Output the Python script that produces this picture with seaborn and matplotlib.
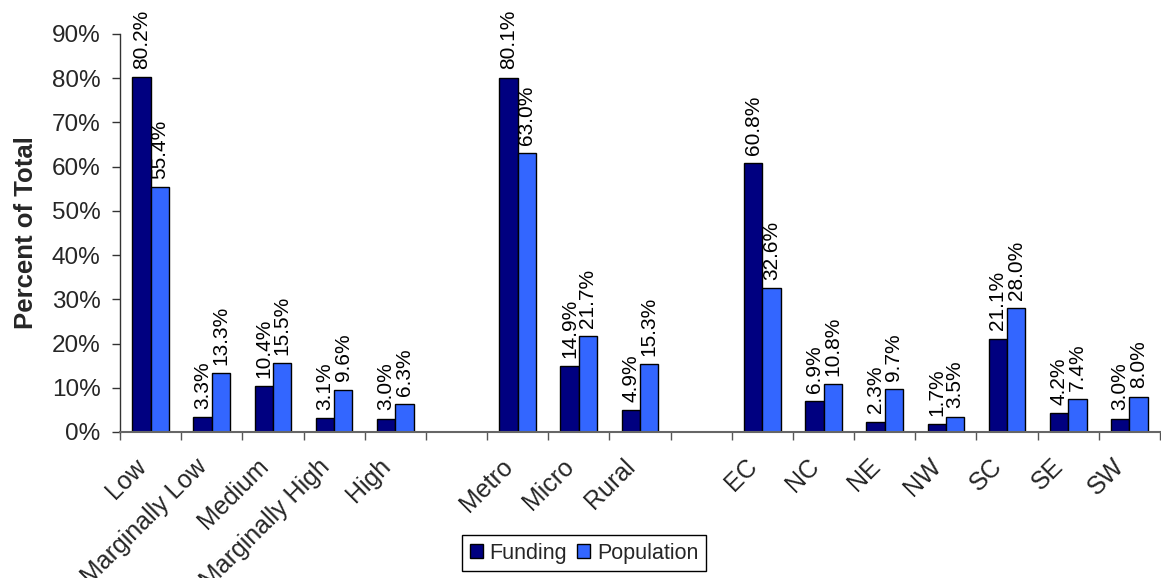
import matplotlib
matplotlib.use("Agg")
import matplotlib.pyplot as plt
import matplotlib.transforms as mtransforms
import seaborn as sns
import pandas as pd
from matplotlib.ticker import FuncFormatter, FixedLocator
from matplotlib.patches import Patch

# Category groups (blank entries keep an empty slot between groups)
need_levels = ["Low", "Marginally Low", "Medium", "Marginally High", "High"]
area_types = ["Metro", "Micro", "Rural"]
regions = ["EC", "NC", "NE", "NW", "SC", "SE", "SW"]
categories = need_levels + area_types + regions
slot_order = need_levels + [" "] + area_types + ["  "] + regions

funding = [80.2, 3.3, 10.4, 3.1, 3.0, 80.1, 14.9, 4.9, 60.8, 6.9, 2.3, 1.7, 21.1, 4.2, 3.0]
population = [55.4, 13.3, 15.5, 9.6, 6.3, 63.0, 21.7, 15.3, 32.6, 10.8, 9.7, 3.5, 28.0, 7.4, 8.0]

series_names = ["Funding", "Population"]
series_colors = ["#000080", "#3366FF"]

df = pd.DataFrame({
    "Category": categories * 2,
    "Series": [series_names[0]] * len(categories) + [series_names[1]] * len(categories),
    "Percent": funding + population,
})

sns.set_theme(style="white")
plt.rcParams["font.family"] = ["Liberation Sans", "DejaVu Sans"]

fig = plt.figure(figsize=(11.61, 5.78), dpi=100)
ax = fig.add_axes([120 / 1161, (578 - 432) / 578, 1040 / 1161, (432 - 34) / 578])

sns.barplot(
    data=df, x="Category", y="Percent", hue="Series",
    order=slot_order, hue_order=series_names,
    palette=series_colors, width=0.6, edgecolor="black", linewidth=1.0,
    saturation=1, ax=ax, legend=False, errorbar=None,
)

for container in ax.containers:
    ax.bar_label(container, labels=[f"{v:.1f}%" for v in container.datavalues],
                 rotation=90, padding=6, fontsize=15, color="black")

ax.set_ylim(0, 90)
ax.set_xlim(-0.5, len(slot_order) - 0.5)
ax.yaxis.set_major_locator(FixedLocator(range(0, 91, 10)))
ax.yaxis.set_major_formatter(FuncFormatter(lambda v, p: f"{v:.0f}%"))
ax.tick_params(axis="y", which="major", length=6, width=1, color="#333333",
               labelsize=17.5, left=True, pad=8)

# Category labels under each slot, ticks at slot boundaries
ax.tick_params(axis="x", which="major", length=0, labelsize=18, pad=16)
ax.set_xticks(range(len(slot_order)))
ax.set_xticklabels(slot_order, rotation=45, ha="right", va="top", rotation_mode="anchor")
shift = mtransforms.ScaledTranslation(-17 / 100, 0, fig.dpi_scale_trans)
for lbl in ax.get_xticklabels():
    lbl.set_transform(lbl.get_transform() + shift)
ax.set_xticks([i - 0.5 for i in range(len(slot_order) + 1)], minor=True)
ax.tick_params(axis="x", which="minor", length=6, width=1, color="#555555", bottom=True)

ax.set_xlabel("")
ax.set_ylabel("Percent of Total", fontsize=18.5, fontweight="bold", labelpad=10)

for side in ["top", "right"]:
    ax.spines[side].set_visible(False)
ax.spines["left"].set_color("#333333")
ax.spines["bottom"].set_color("#666666")
ax.spines["left"].set_linewidth(1)
ax.spines["bottom"].set_linewidth(1.5)
ax.grid(False)

handles = [Patch(facecolor=c, edgecolor="black", linewidth=1) for c in series_colors]
leg = fig.legend(handles, series_names, loc="center", bbox_to_anchor=(0.503, 0.043),
                 ncol=2, fontsize=15.5, frameon=True, fancybox=False, framealpha=1,
                 edgecolor="black", handlelength=0.6, handleheight=0.6,
                 handletextpad=0.3, columnspacing=0.5, borderpad=0.35)
leg.get_frame().set_linewidth(1)

fig.savefig("out.png", dpi=100)
